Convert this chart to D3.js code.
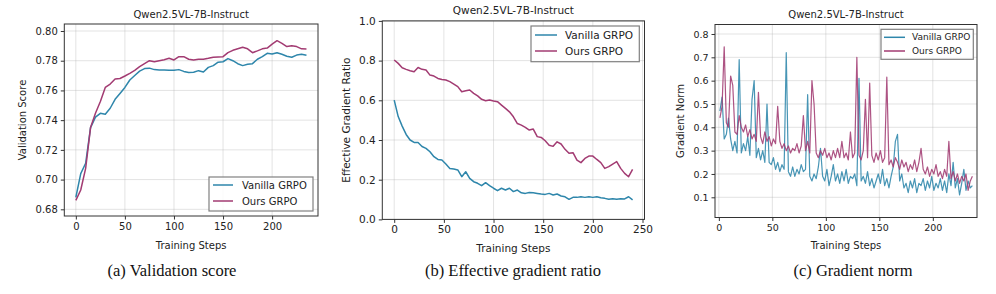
<!DOCTYPE html>
<html>
<head>
<meta charset="utf-8">
<script src="https://cdn.jsdelivr.net/npm/d3@7"></script>
<style>
  body { margin: 0; background: #fff; }
  text { font-family: "DejaVu Sans", sans-serif; fill: #222; }
  .caption { font-family: "Liberation Serif", "Times New Roman", serif; font-size: 16.5px; fill: #111; }
  .grid line { stroke: #b0b0b0; stroke-opacity: 0.35; stroke-width: 1; }
  .frame { fill: none; stroke: #333; stroke-width: 1; }
  .tick line { stroke: #333; }
  .legend-box { fill: #fff; fill-opacity: 0.85; stroke: #808080; stroke-width: 1.2; }
</style>
</head>
<body>
<svg id="chart" width="996" height="294"></svg>
<script>
var vanillaColor = '#2E86AB';
var oursColor = '#A23B72';
var seriesNames = ['Vanilla GRPO', 'Ours GRPO'];
var modelName = 'Qwen2.5VL-7B-Instruct';
var captions = ['(a) Validation score', '(b) Effective gradient ratio', '(c) Gradient norm'];

// (a) validation score, evaluated every 5 steps
var valSteps = [0, 5, 10, 15, 20, 25, 30, 35, 40, 45, 50, 55, 60, 65, 70, 75, 80, 85, 90, 95,
  100, 105, 110, 115, 120, 125, 130, 135, 140, 145, 150, 155, 160, 165, 170, 175, 180, 185, 190, 195,
  200, 205, 210, 215, 220, 225, 230, 235];
var valVanilla = [0.688, 0.704, 0.711, 0.735, 0.742, 0.7446, 0.744, 0.748, 0.754, 0.758,
  0.762, 0.767, 0.770, 0.773, 0.7747, 0.775, 0.774, 0.7738, 0.7738, 0.7735,
  0.7735, 0.774, 0.7728, 0.772, 0.7722, 0.7733, 0.7724, 0.7755, 0.7767, 0.779,
  0.7793, 0.7814, 0.780, 0.778, 0.7767, 0.7776, 0.778, 0.781, 0.7827, 0.785,
  0.7845, 0.7854, 0.7843, 0.783, 0.7823, 0.7838, 0.7843, 0.7836];
var valOurs = [0.686, 0.693, 0.7076, 0.735, 0.7446, 0.7525, 0.762, 0.7643, 0.7677, 0.768,
  0.7697, 0.7715, 0.7735, 0.776, 0.778, 0.780, 0.7793, 0.780, 0.7807, 0.7816,
  0.7805, 0.7827, 0.7827, 0.781, 0.7805, 0.781, 0.781, 0.7816, 0.7823, 0.7825,
  0.7827, 0.7854, 0.787, 0.788, 0.789, 0.788, 0.7854, 0.7866, 0.788, 0.7885,
  0.7912, 0.7935, 0.7917, 0.7895, 0.790, 0.7895, 0.788, 0.7879];

// (b) effective gradient ratio
var effSteps = [0, 4, 8, 12, 16, 20, 24, 28, 32, 36, 40, 44, 48, 52, 56, 60, 64, 68, 72, 76,
  80, 84, 88, 92, 96, 100, 104, 108, 112, 116, 120, 124, 128, 132, 136, 140, 144, 148, 152, 156,
  160, 164, 168, 172, 176, 180, 184, 188, 192, 196, 200, 204, 208, 212, 216, 220, 224, 228, 232, 236, 240];
var effVanilla = [0.601, 0.518, 0.47, 0.428, 0.40, 0.388, 0.387, 0.367, 0.358, 0.341,
  0.316, 0.302, 0.299, 0.279, 0.257, 0.254, 0.249, 0.215, 0.240, 0.207,
  0.19, 0.182, 0.170, 0.185, 0.170, 0.157, 0.145, 0.157, 0.148, 0.157,
  0.14, 0.148, 0.134, 0.131, 0.136, 0.134, 0.131, 0.128, 0.126, 0.131,
  0.123, 0.128, 0.118, 0.114, 0.101, 0.111, 0.111, 0.114, 0.111, 0.114,
  0.111, 0.114, 0.109, 0.106, 0.101, 0.104, 0.101, 0.104, 0.103, 0.114, 0.098];
var effOurs = [0.803, 0.786, 0.764, 0.756, 0.749, 0.744, 0.765, 0.756, 0.753, 0.727,
  0.722, 0.710, 0.705, 0.702, 0.694, 0.682, 0.669, 0.643, 0.648, 0.652,
  0.635, 0.622, 0.605, 0.598, 0.601, 0.596, 0.593, 0.576, 0.559, 0.542,
  0.517, 0.483, 0.475, 0.464, 0.450, 0.455, 0.417, 0.413, 0.396, 0.374,
  0.368, 0.391, 0.38, 0.353, 0.333, 0.336, 0.299, 0.286, 0.307, 0.319,
  0.319, 0.302, 0.286, 0.257, 0.266, 0.279, 0.291, 0.257, 0.232, 0.215, 0.252];

// (c) gradient norm
var normSteps = [1, 3, 5, 7, 9, 11, 13, 15, 17, 19, 21, 23, 25, 27, 29, 31, 33, 35, 37, 39,
  41, 43, 45, 47, 49, 51, 53, 55, 57, 59, 61, 63, 65, 67, 69, 71, 73, 75, 77, 79,
  81, 83, 85, 87, 89, 91, 93, 95, 97, 99, 101, 103, 105, 107, 109, 111, 113, 115, 117, 119,
  121, 123, 125, 127, 129, 131, 133, 135, 137, 139, 141, 143, 145, 147, 149, 151, 153, 155, 157, 159,
  161, 163, 165, 167, 169, 171, 173, 175, 177, 179, 181, 183, 185, 187, 189, 191, 193, 195, 197, 199,
  201, 203, 205, 207, 209, 211, 213, 215, 217, 219, 221, 223, 225, 227, 229, 231, 233, 235, 237];
var normVanilla = [0.47, 0.53, 0.35, 0.37, 0.44, 0.35, 0.30, 0.34, 0.29, 0.69,
  0.29, 0.33, 0.30, 0.36, 0.28, 0.52, 0.60, 0.27, 0.31, 0.26,
  0.30, 0.25, 0.50, 0.25, 0.24, 0.27, 0.22, 0.25, 0.21, 0.24,
  0.22, 0.72, 0.21, 0.19, 0.23, 0.19, 0.22, 0.20, 0.24, 0.21,
  0.22, 0.54, 0.19, 0.17, 0.20, 0.18, 0.23, 0.31, 0.19, 0.17,
  0.22, 0.15, 0.19, 0.24, 0.17, 0.20, 0.16, 0.21, 0.17, 0.22,
  0.16, 0.19, 0.18, 0.20, 0.15, 0.61, 0.17, 0.19, 0.16, 0.21,
  0.15, 0.18, 0.14, 0.17, 0.20, 0.16, 0.22, 0.15, 0.18, 0.14,
  0.19, 0.23, 0.34, 0.37, 0.17, 0.20, 0.14, 0.16, 0.12, 0.17,
  0.14, 0.18, 0.12, 0.16, 0.15, 0.18, 0.13, 0.17, 0.14, 0.19,
  0.13, 0.16, 0.14, 0.18, 0.13, 0.17, 0.12, 0.20, 0.15, 0.25,
  0.14, 0.18, 0.11, 0.16, 0.22, 0.13, 0.17, 0.14, 0.15];
var normOurs = [0.44, 0.49, 0.745, 0.42, 0.40, 0.62, 0.58, 0.38, 0.37, 0.45,
  0.40, 0.38, 0.41, 0.36, 0.39, 0.35, 0.37, 0.34, 0.55, 0.36,
  0.33, 0.38, 0.34, 0.36, 0.32, 0.35, 0.33, 0.49, 0.34, 0.31,
  0.33, 0.30, 0.32, 0.29, 0.31, 0.30, 0.33, 0.29, 0.32, 0.45,
  0.30, 0.34, 0.29, 0.60, 0.50, 0.29, 0.27, 0.30, 0.28, 0.31,
  0.27, 0.29, 0.26, 0.30, 0.27, 0.31, 0.27, 0.34, 0.27, 0.29,
  0.26, 0.38, 0.27, 0.29, 0.70, 0.28, 0.26, 0.30, 0.52, 0.27,
  0.59, 0.28, 0.25, 0.29, 0.26, 0.30, 0.25, 0.27, 0.615, 0.24,
  0.26, 0.23, 0.27, 0.25, 0.22, 0.26, 0.23, 0.25, 0.21, 0.24,
  0.22, 0.26, 0.21, 0.25, 0.31, 0.22, 0.20, 0.23, 0.19, 0.22,
  0.20, 0.24, 0.19, 0.21, 0.18, 0.22, 0.19, 0.34, 0.18, 0.21,
  0.17, 0.20, 0.16, 0.19, 0.17, 0.20, 0.13, 0.17, 0.19];

var svg = d3.select('#chart');

function drawPanel(p) {
  var g = svg.append('g');
  var x = d3.scaleLinear().domain(p.xDomain).range([p.left, p.right]);
  var y = d3.scaleLinear().domain(p.yDomain).range([p.bottom, p.top]);

  var grid = g.append('g').attr('class', 'grid');
  grid.selectAll('.gx').data(p.xTicks).enter().append('line')
    .attr('x1', d => x(d)).attr('x2', d => x(d))
    .attr('y1', p.top).attr('y2', p.bottom);
  grid.selectAll('.gy').data(p.yTicks).enter().append('line')
    .attr('x1', p.left).attr('x2', p.right)
    .attr('y1', d => y(d)).attr('y2', d => y(d));

  var line = d3.line().x(d => x(d[0])).y(d => y(d[1]));
  p.series.forEach(function(s) {
    g.append('path')
      .datum(d3.zip(p.steps, s.values))
      .attr('fill', 'none')
      .attr('stroke', s.color)
      .attr('stroke-width', p.lineWidth)
      .attr('stroke-opacity', p.lineOpacity)
      .attr('stroke-linejoin', 'round')
      .attr('d', line);
  });

  g.append('rect').attr('class', 'frame')
    .attr('x', p.left).attr('y', p.top)
    .attr('width', p.right - p.left).attr('height', p.bottom - p.top);

  var gx = g.append('g')
    .attr('transform', `translate(0,${p.bottom})`)
    .call(d3.axisBottom(x).tickValues(p.xTicks).tickFormat(d3.format('d')).tickSize(3.5).tickPadding(3));
  var gy = g.append('g')
    .attr('transform', `translate(${p.left},0)`)
    .call(d3.axisLeft(y).tickValues(p.yTicks).tickFormat(d3.format(p.yFormat)).tickSize(3.5).tickPadding(3));
  [gx, gy].forEach(function(a) {
    a.select('.domain').remove();
    a.selectAll('text').style('font-size', p.tickSize + 'px').attr('fill', '#222');
    a.attr('font-family', null);
  });

  var cx = (p.left + p.right) / 2;
  g.append('text').text(modelName)
    .attr('x', cx).attr('y', p.titleY)
    .attr('text-anchor', 'middle').style('font-size', p.labelSize + 'px');
  g.append('text').text('Training Steps')
    .attr('x', cx).attr('y', p.xLabelY)
    .attr('text-anchor', 'middle').style('font-size', p.labelSize + 'px');
  g.append('text').text(p.yLabel)
    .attr('text-anchor', 'middle')
    .attr('dominant-baseline', 'central')
    .attr('transform', `translate(${p.yLabelX},${(p.top + p.bottom) / 2}) rotate(-90)`)
    .style('font-size', p.labelSize + 'px');

  var L = p.legend;
  var lg = g.append('g').attr('transform', `translate(${L.x},${L.y})`);
  lg.append('rect').attr('class', 'legend-box')
    .attr('width', L.w).attr('height', L.h);
  p.series.forEach(function(s, i) {
    lg.append('line')
      .attr('x1', L.x0).attr('x2', L.x1)
      .attr('y1', L.rows[i]).attr('y2', L.rows[i])
      .attr('stroke', s.color).attr('stroke-width', 1.5);
    lg.append('text').text(s.name)
      .attr('x', L.tx).attr('y', L.rows[i])
      .attr('dominant-baseline', 'central')
      .style('font-size', L.size + 'px');
  });
}

drawPanel({
  left: 64.3, right: 318, top: 24, bottom: 216,
  xDomain: [-11.75, 246.75], yDomain: [0.6755, 0.8047],
  xTicks: [0, 50, 100, 150, 200],
  yTicks: [0.68, 0.70, 0.72, 0.74, 0.76, 0.78, 0.80], yFormat: '.2f',
  steps: valSteps,
  series: [
    {name: seriesNames[0], color: vanillaColor, values: valVanilla},
    {name: seriesNames[1], color: oursColor, values: valOurs}
  ],
  lineWidth: 1.5, lineOpacity: 1,
  tickSize: 10, labelSize: 10,
  titleY: 17.5, xLabelY: 249, yLabelX: 22.7, yLabel: 'Validation Score',
  legend: {x: 209, y: 177, w: 104, h: 34, rows: [8, 24], x0: 4, x1: 24, tx: 33, size: 10}
});

drawPanel({
  left: 382.3, right: 644.5, top: 20.9, bottom: 219.4,
  xDomain: [-12, 252], yDomain: [0, 1],
  xTicks: [0, 50, 100, 150, 200, 250],
  yTicks: [0, 0.2, 0.4, 0.6, 0.8, 1.0], yFormat: '.1f',
  steps: effSteps,
  series: [
    {name: seriesNames[0], color: vanillaColor, values: effVanilla},
    {name: seriesNames[1], color: oursColor, values: effOurs}
  ],
  lineWidth: 1.5, lineOpacity: 1,
  tickSize: 10.5, labelSize: 10.5,
  titleY: 13.5, xLabelY: 252, yLabelX: 346, yLabel: 'Effective Gradient Ratio',
  legend: {x: 531, y: 26, w: 108.3, h: 35.7, rows: [9, 25], x0: 4, x1: 26, tx: 34, size: 10.5}
});

drawPanel({
  left: 715, right: 977, top: 24.5, bottom: 217.5,
  xDomain: [-3.6, 241.3], yDomain: [0.0134, 0.8407],
  xTicks: [0, 50, 100, 150, 200],
  yTicks: [0.1, 0.2, 0.3, 0.4, 0.5, 0.6, 0.7, 0.8], yFormat: '.1f',
  steps: normSteps,
  series: [
    {name: seriesNames[0], color: vanillaColor, values: normVanilla},
    {name: seriesNames[1], color: oursColor, values: normOurs}
  ],
  lineWidth: 1.2, lineOpacity: 0.88,
  tickSize: 9.5, labelSize: 10,
  titleY: 17.5, xLabelY: 249, yLabelX: 680.7, yLabel: 'Gradient Norm',
  legend: {x: 881, y: 29.3, w: 92.3, h: 30, rows: [8, 21.7], x0: 3, x1: 24, tx: 31, size: 9}
});

svg.selectAll('.caption')
  .data(captions)
  .enter().append('text')
  .attr('class', 'caption')
  .attr('x', (d, i) => [172, 513, 853][i])
  .attr('y', 276)
  .attr('text-anchor', 'middle')
  .text(d => d);
</script>
</body>
</html>
